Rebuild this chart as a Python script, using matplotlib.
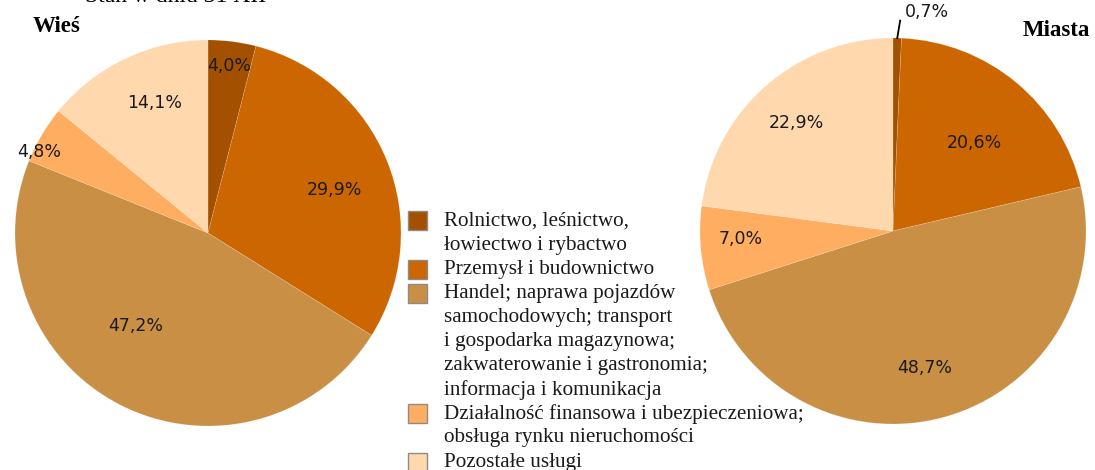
import numpy as np
import matplotlib
matplotlib.use('Agg')
import matplotlib.pyplot as plt
from matplotlib.patches import Rectangle

# udział pracujących wg sekcji (%)
sections = ['Rolnictwo, leśnictwo,\nłowiectwo i rybactwo',
            'Przemysł i budownictwo',
            'Handel; naprawa pojazdów\nsamochodowych; transport\ni gospodarka magazynowa;\nzakwaterowanie i gastronomia;\ninformacja i komunikacja',
            'Działalność finansowa i ubezpieczeniowa;\nobsługa rynku nieruchomości',
            'Pozostałe usługi']
wies = [4.0, 29.9, 47.2, 4.8, 14.1]
miasta = [0.7, 20.6, 48.7, 7.0, 22.9]
colors = ['#a35100', '#cc6600', '#c99045', '#ffad60', '#ffd8ae']

W, H = 1095, 470
fig = plt.figure(figsize=(W / 100, H / 100), dpi=100)


def fx(x):
    return x / W


def fy(y):
    return 1 - y / H


def pie(ax, values, label_r, label_rot, skip=()):
    wedges, _ = ax.pie(values, colors=colors, startangle=90, counterclock=False,
                       radius=1.0, wedgeprops=dict(edgecolor=(1, 1, 1, 0.2), linewidth=0.5))
    ax.set_xlim(-1, 1)
    ax.set_ylim(-1, 1)
    ax.set_aspect('equal')
    ax.axis('off')
    for i, (w, v) in enumerate(zip(wedges, values)):
        if i in skip:
            continue
        ang = np.deg2rad((w.theta1 + w.theta2) / 2 + label_rot[i])
        ax.text(label_r[i] * np.cos(ang), label_r[i] * np.sin(ang),
                f'{v:.1f}%'.replace('.', ','), ha='center', va='center',
                fontsize=12.5, color='#1a1a1a', family='DejaVu Sans')
    return wedges


r = 193
ax1 = fig.add_axes([fx(208 - r), 1 - (233 + r) / H, 2 * r / W, 2 * r / H])
pie(ax1, wies, [0.87, 0.69, 0.61, 0.97, 0.73], [0, -3, -11, 5, -3])

ax2 = fig.add_axes([fx(893 - r), 1 - (231 + r) / H, 2 * r / W, 2 * r / H])
wd = pie(ax2, miasta, [0, 0.62, 0.73, 0.79, 0.75], [0, -3, -2.5, -2, 0.5], skip=(0,))

# mały wycinek opisany poza kołem
a = np.deg2rad((wd[0].theta1 + wd[0].theta2) / 2)
ax2.plot([np.cos(a), np.cos(a) + 0.015], [np.sin(a), 1.09], color='black', lw=1.3, clip_on=False)
ax2.text(0.06, 1.135, f'{miasta[0]:.1f}%'.replace('.', ','), ha='left', va='center',
         fontsize=12.5, color='#1a1a1a', family='DejaVu Sans')

fig.text(fx(33), fy(27), 'Wieś', fontsize=16.5, fontweight='bold', family='Liberation Serif',
         ha='left', va='center')
fig.text(fx(1090), fy(30), 'Miasta', fontsize=16.5, fontweight='bold', family='Liberation Serif',
         ha='right', va='center')
fig.text(fx(85), fy(2), 'Stan w dniu 31 XII', fontsize=17, family='Liberation Serif',
         ha='left', va='baseline')

# legenda
pitch = 24.1
line = 0
for name, c in zip(sections, colors):
    y0 = 221 + line * pitch
    fig.patches.append(Rectangle((fx(408), fy(y0 + 9.5)), 19 / W, 19 / H, transform=fig.transFigure,
                                 facecolor=c, edgecolor='#8c8c8c', linewidth=1.0))
    for k, txt in enumerate(name.split('\n')):
        fig.text(fx(444), fy(y0 + k * pitch), txt, fontsize=15.2, family='Liberation Serif',
                 ha='left', va='center', color='#1a1a1a')
    line += len(name.split('\n'))

fig.savefig('out.png', dpi=100)
